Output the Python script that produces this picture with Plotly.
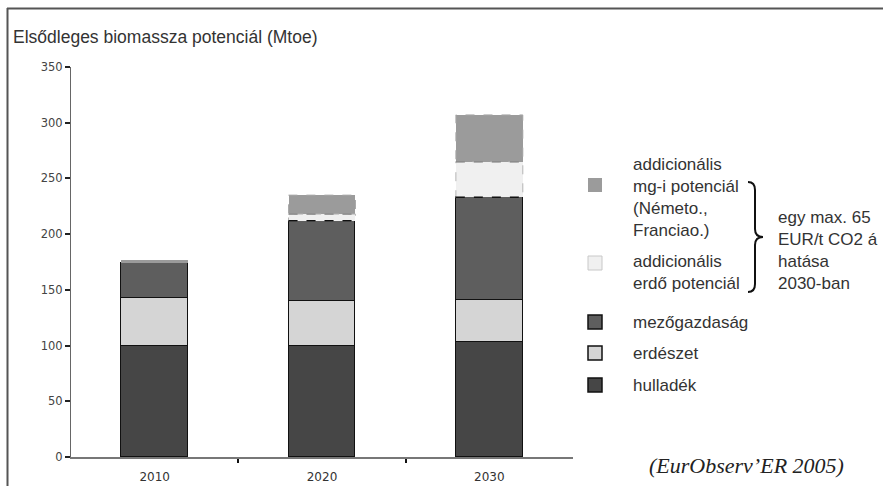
import plotly.graph_objects as go

# ---- data ----
years = ["2010", "2020", "2030"]
hulladek = [100, 100, 103]
erdeszet = [43, 40, 38]
mezogazdasag = [31, 72, 92]
add_erdo = [0, 6, 32]
add_mg = [3, 17, 42]

series_names = ["hulladék", "erdészet", "mezőgazdaság",
                "addicionális erdő potenciál", "addicionális mg-i potenciál"]
series_values = [hulladek, erdeszet, mezogazdasag, add_erdo, add_mg]
series_colors = ["#464646", "#d5d5d5", "#5e5e5e", "#f0f0f0", "#9b9b9b"]
series_lines = [("#111111", 1.5), ("#111111", 1.5), ("#111111", 1.5), ("#f0f0f0", 0), ("#9b9b9b", 0)]

title_text = "Elsődleges biomassza potenciál (Mtoe)"
source_text = "(EurObserv’ER 2005)"
y_ticks = [0, 50, 100, 150, 200, 250, 300, 350]

W, H = 883, 486
L, R, T, B = 71, 310, 67, 29
BAR_W = 0.4
xs = list(range(len(years)))

def px(X):
    return (X - L) / (W - L - R)

def py(Y):
    return (H - B - Y) / (H - T - B)

fig = go.Figure()
for name, vals, col, (lc, lw) in zip(series_names, series_values, series_colors, series_lines):
    fig.add_trace(go.Bar(x=xs, y=vals, name=name, width=BAR_W,
                         marker=dict(color=col, line=dict(color=lc, width=lw)),
                         showlegend=False))

shapes = []
# dashed outlines for the additional potentials (computed from data)
base_tops = [h + e + m for h, e, m in zip(hulladek, erdeszet, mezogazdasag)]
for i, x in enumerate(xs):
    b0 = base_tops[i]
    b1 = b0 + add_erdo[i]
    b2 = b1 + add_mg[i]
    if add_erdo[i] > 5:
        shapes.append(dict(type="rect", xref="x", yref="y", x0=x - BAR_W / 2, x1=x + BAR_W / 2,
                           y0=b0, y1=b1, line=dict(color="#b4b4b4", width=1, dash="dash")))
    if add_mg[i] > 5:
        shapes.append(dict(type="rect", xref="x", yref="y", x0=x - BAR_W / 2, x1=x + BAR_W / 2,
                           y0=b1, y1=b2, line=dict(color="#a8a8a8", width=1, dash="dash")))
    if add_erdo[i] > 0:
        shapes.append(dict(type="line", xref="x", yref="y", x0=x - BAR_W / 2, x1=x + BAR_W / 2,
                           y0=b1, y1=b1, line=dict(color="#8c8c8c", width=1.5, dash="dash")))
        shapes.append(dict(type="line", xref="x", yref="y", x0=x - BAR_W / 2, x1=x + BAR_W / 2,
                           y0=b0, y1=b0, line=dict(color="#111111", width=1.5, dash="dash")))

# frame lines (top and left)
shapes.append(dict(type="line", xref="paper", yref="paper", x0=px(7), x1=px(883), y0=py(8.5), y1=py(8.5),
                   line=dict(color="#555555", width=2)))
shapes.append(dict(type="line", xref="paper", yref="paper", x0=px(7.5), x1=px(7.5), y0=py(8), y1=py(486),
                   line=dict(color="#555555", width=2)))

# legend swatches
legend_items = [  # (series index, swatch centre y, text centre y, text)
    (4, 185, 197, "addicionális<br>mg-i potenciál<br>(Németo.,<br>Franciao.)"),
    (3, 263, 272, "addicionális<br>erdő potenciál"),
    (2, 322, 322, "mezőgazdaság"),
    (1, 353, 353, "erdészet"),
    (0, 385, 385, "hulladék"),
]
annotations = []
for idx, sy, ty, txt in legend_items:
    if idx >= 3:
        lc, lw = ("#c8c8c8", 1) if idx == 3 else (series_colors[idx], 0)
    else:
        lc, lw = "#111111", 1.5
    shapes.append(dict(type="rect", xref="paper", yref="paper",
                       x0=px(588), x1=px(602), y0=py(sy - 7), y1=py(sy + 7),
                       fillcolor=series_colors[idx], line=dict(color=lc, width=lw)))
    annotations.append(dict(text=txt, xref="paper", yref="paper", x=px(631), y=py(ty),
                            xanchor="left", yanchor="middle", align="left", showarrow=False,
                            font=dict(family="Liberation Sans, Arial, sans-serif", size=17, color="#333333")))

# brace
bx0, bxm, bxt = 748, 755, 763
ytop, ymid, ybot = 182, 237, 292
path = (f"M {px(bx0)},{py(ytop)} Q {px(bxm)},{py(ytop)} {px(bxm)},{py(ytop + 8)} "
        f"L {px(bxm)},{py(ymid - 8)} Q {px(bxm)},{py(ymid)} {px(bxt)},{py(ymid)} "
        f"Q {px(bxm)},{py(ymid)} {px(bxm)},{py(ymid + 8)} "
        f"L {px(bxm)},{py(ybot - 8)} Q {px(bxm)},{py(ybot)} {px(bx0)},{py(ybot)}")
shapes.append(dict(type="path", xref="paper", yref="paper", path=path,
                   line=dict(color="#111111", width=2)))

annotations.append(dict(text="egy max. 65<br>EUR/t CO2 á<br>hatása<br>2030-ban", xref="paper", yref="paper",
                        x=px(776), y=py(250), xanchor="left", yanchor="middle", align="left", showarrow=False,
                        font=dict(family="Liberation Sans, Arial, sans-serif", size=17, color="#333333")))
annotations.append(dict(text=title_text, xref="paper", yref="paper", x=px(11), y=py(37),
                        xanchor="left", yanchor="middle", showarrow=False,
                        font=dict(family="Liberation Sans, Arial, sans-serif", size=17.5, color="#333333")))
annotations.append(dict(text=f"<i>{source_text}</i>", xref="paper", yref="paper", x=px(647), y=py(466),
                        xanchor="left", yanchor="middle", showarrow=False,
                        font=dict(family="Liberation Serif, Times New Roman, serif", size=22, color="#222222")))

fig.update_layout(
    width=W, height=H, barmode="stack", bargap=0,
    margin=dict(l=L, r=R, t=T, b=B, pad=0, autoexpand=False),
    paper_bgcolor="white", plot_bgcolor="white",
    shapes=shapes, annotations=annotations,
    xaxis=dict(range=[-0.5, 2.5], tickvals=xs, ticktext=years, ticks="", automargin=False,
               showline=True, linecolor="#777777", linewidth=1.5, showgrid=False, zeroline=False,
               tickfont=dict(family="DejaVu Sans, Verdana, sans-serif", size=12, color="#333333"),
               ticklabelstandoff=8,
               minor=dict(tickvals=[0.5, 1.5], ticks="outside", ticklen=4, tickwidth=2, tickcolor="#111111")),
    yaxis=dict(range=[0, 350], tickvals=y_ticks, ticks="outside", ticklen=5, tickwidth=2, tickcolor="#222222",
               automargin=False,
               showline=True, linecolor="#666666", linewidth=1.2, showgrid=False, zeroline=False,
               tickfont=dict(family="DejaVu Sans, Verdana, sans-serif", size=11.5, color="#444444")),
)

fig.write_html("out.html")
